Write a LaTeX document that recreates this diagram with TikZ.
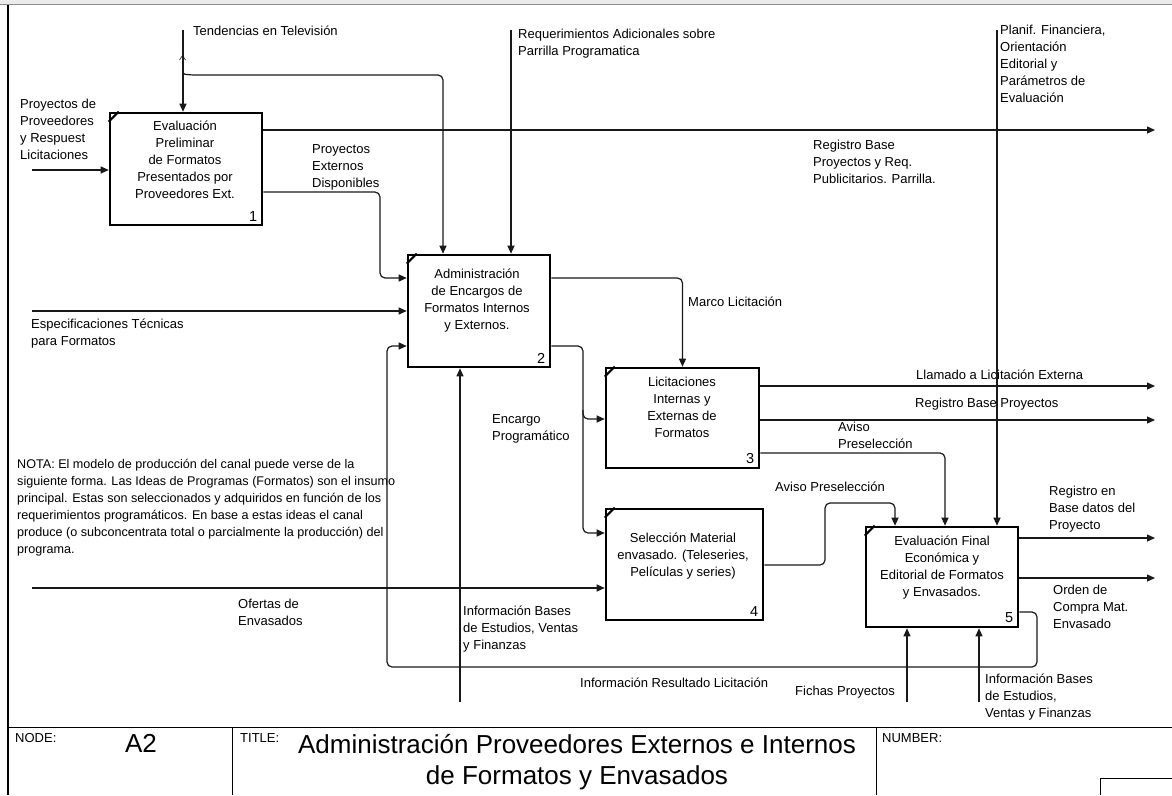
\documentclass[tikz,border=0pt]{standalone}
\usepackage{fontspec}
\setmainfont{Liberation Sans}
\usetikzlibrary{arrows.meta,calc}
\newcommand\lblfont{\fontsize{13}{17}\selectfont}
\newcommand\numfont{\fontsize{14.5}{17}\selectfont}
\newcommand\bigfont{\fontsize{26}{31}\selectfont}
\begin{document}
\begin{tikzpicture}[x=1pt,y=-1pt,
  flow/.style={line width=1.2pt, draw=black!90},
  arr/.style={flow, -{Triangle[length=8pt,width=7pt]}},
  rc/.style={rounded corners=5pt},
  fbox/.style={draw, line width=2.6pt, inner sep=0},
  btxt/.style={align=center, inner sep=0, font=\lblfont},
  lbl/.style={anchor=west, align=left, inner sep=0, font=\lblfont},
  numtxt/.style={anchor=south east, inner sep=0, font=\numfont}]
\useasboundingbox (0,0) rectangle (1172,795);
% window strip and frame
\fill[black!8] (0,0) rectangle (1172,4.5);
\draw[black!45, line width=0.8pt] (0,4.5) -- (1172,4.5);
\draw[line width=2.5pt] (8,5) -- (8,795);

% activity boxes
\node[fbox, minimum width=152pt, minimum height=112pt] (b1) at (186,169) {};
\node[fbox, minimum width=142pt, minimum height=112pt] (b2) at (479,311) {};
\node[fbox, minimum width=153pt, minimum height=100pt] (b3) at (682.5,418) {};
\node[fbox, minimum width=157pt, minimum height=111pt] (b4) at (684.5,564.5) {};
\node[fbox, minimum width=152pt, minimum height=100pt] (b5) at (942,577) {};
\foreach \b in {b1,b2,b3,b4,b5}
  \draw[line width=2.2pt] ($(\b.north west)+(0,10)$) -- ($(\b.north west)+(10,0)$);
\foreach \b/\n in {b1/1,b2/2,b3/3,b4/4,b5/5}
  \node[numtxt] at ($(\b.south east)+(-6,-5)$) {\n};

\node[btxt] (t1) at (185,160) {Evaluación\\Preliminar\\de Formatos\\Presentados por\\Proveedores Ext.};
\node[btxt] (t2) at (477,300.5) {Administración\\de Encargos de\\Formatos Internos\\y Externos.};
\node[btxt] (t3) at (682,407.5) {Licitaciones\\Internas y\\Externas de\\Formatos};
\node[btxt] (t4) at (683,556) {Selección Material\\envasado. (Teleseries,\\Películas y series)};
\node[btxt] (t5) at (942,567.5) {Evaluación Final\\Económica y\\Editorial de Formatos\\y Envasados.};

% arrow labels
\node[lbl] (l1) at (193,31) {Tendencias en Televisión};
\node[lbl] (l2) at (518,43.5) {Requerimientos Adicionales sobre\\Parrilla Programatica};
\node[lbl] (l3) at (1000,64) {Planif. Financiera,\\Orientación\\Editorial y\\Parámetros de\\Evaluación};
\node[lbl] (l4) at (20,129.5) {Proyectos de\\Proveedores\\y Respuest\\Licitaciones};
\node[lbl] (l5) at (312,167) {Proyectos\\Externos\\Disponibles};
\node[lbl] (l6) at (813,162) {Registro Base\\Proyectos y Req.\\Publicitarios. Parrilla.};
\node[lbl] (l7) at (31,333.5) {Especificaciones Técnicas\\para Formatos};
\node[lbl] (l8) at (688,302) {Marco Licitación};
\node[lbl] (l9) at (916,375) {Llamado a Licitación Externa};
\node[lbl] (l10) at (915,404) {Registro Base Proyectos};
\node[lbl] (l11) at (838,435.5) {Aviso\\Preselección};
\node[lbl] (l12) at (492,428.5) {Encargo\\Programático};
\node[lbl] (l13) at (775,487) {Aviso Preselección};
\node[lbl] (l14) at (1049,509) {Registro en\\Base datos del\\Proyecto};
\node[lbl] (l15) at (1053,607) {Orden de\\Compra Mat.\\Envasado};
\node[lbl] (l16) at (238,612.5) {Ofertas de\\Envasados};
\node[lbl] (l17) at (463,629) {Información Bases\\de Estudios, Ventas\\y Finanzas};
\node[lbl] (l18) at (580,683) {Información Resultado Licitación};
\node[lbl] (l19) at (795,692) {Fichas Proyectos};
\node[lbl] (l20) at (985,697) {Información Bases\\de Estudios,\\Ventas y Finanzas};
\node[lbl, font=\fontsize{12.6}{17}\selectfont] (nota) at (17,507.5) {NOTA: El modelo de producción del canal puede verse de la\\siguiente forma. Las Ideas de Programas (Formatos) son el insumo\\principal. Estas son seleccionados y adquiridos en función de los\\requerimientos programáticos. En base a estas ideas el canal\\produce (o subconcentrata total o parcialmente la producción) del\\programa.};

% Tendencias en Televisión
\coordinate (tv) at (183,30);
\draw[arr] (tv) -- (tv |- b1.north);
\draw[flow, line width=0.6pt] (179.5,60) -- (182.5,55.5) -- (185.5,60);
\draw[arr, rc] (183,68) .. controls (183,74) .. (190,75) -- (443,75) -- (443,0 |- b2.north);
% Requerimientos adicionales
\coordinate (rq) at (511,30);
\draw[arr] (rq) -- (rq |- b2.north);
% box 1 outputs
\coordinate (rb) at (1155,130);
\draw[arr] (b1.east |- rb) -- (rb);
\draw[arr, rc] (b1.east |- 0,192) -| (380,240) |- (b2.west |- 0,278);
% inputs from the left edge
\coordinate (pp) at (32,170);
\draw[arr] (pp) -- (b1.west |- pp);
\coordinate (et) at (32,311);
\draw[arr] (et) -- (b2.west |- et);
\coordinate (oe) at (32,588);
\draw[arr] (oe) -- (b4.west |- oe);
% feedback from box 5 to box 2
\draw[arr, rc] (b5.east |- 0,612) -- (1037,612) -- (1037,667) -- (387,667) -- (387,346) -- (b2.west |- 0,346);
% mechanism of box 2
\coordinate (ib2) at (460,702);
\draw[arr] (ib2) -- (ib2 |- b2.south);
% box 2 outputs
\draw[arr, rc] (b2.east |- 0,278) -| (b3.north);
\draw[arr, rc] (b2.east |- 0,346) -| (583,450) |- (b4.west |- 0,533);
\draw[arr, rc] (583,410) |- (b3.west |- 0,419);
% box 3 outputs
\coordinate (lle) at (1155,386);
\draw[arr] (b3.east |- lle) -- (lle);
\coordinate (rbp) at (1155,420);
\draw[arr] (b3.east |- rbp) -- (rbp);
\draw[arr, rc] (b3.east |- 0,453) -| (945,0 |- b5.north);
% box 4 output
\draw[arr, rc] (b4.east |- 0,565) -| (825,503) -| (895,0 |- b5.north);
% control of box 5
\coordinate (pf) at (997,30);
\draw[arr] (pf) -- (pf |- b5.north);
% box 5 outputs
\coordinate (rbd) at (1155,538);
\draw[arr] (b5.east |- rbd) -- (rbd);
\coordinate (oc) at (1155,578);
\draw[arr] (b5.east |- oc) -- (oc);
% mechanisms of box 5
\coordinate (fp) at (907,702);
\draw[arr] (fp) -- (fp |- b5.south);
\coordinate (ib5) at (979,702);
\draw[arr] (ib5) -- (ib5 |- b5.south);

% title block
\draw[line width=1pt] (8,727) -- (1172,727);
\draw[line width=1pt] (232,727) -- (232,795);
\draw[line width=1pt] (876,727) -- (876,795);
\draw[line width=1pt] (1100,795) -- (1100,778) -- (1172,778);
\node[lbl] (nodelbl) at (15,738) {NODE:};
\node[inner sep=0, font=\bigfont] (nodeid) at (141,743) {A2};
\node[lbl] (titlelbl) at (240,738) {TITLE:};
\node[align=center, inner sep=0, font=\bigfont] (title) at (577,762) {Administración Proveedores Externos e Internos\\de Formatos y Envasados};
\node[lbl] (numlbl) at (882,738) {NUMBER:};
\end{tikzpicture}
\end{document}
